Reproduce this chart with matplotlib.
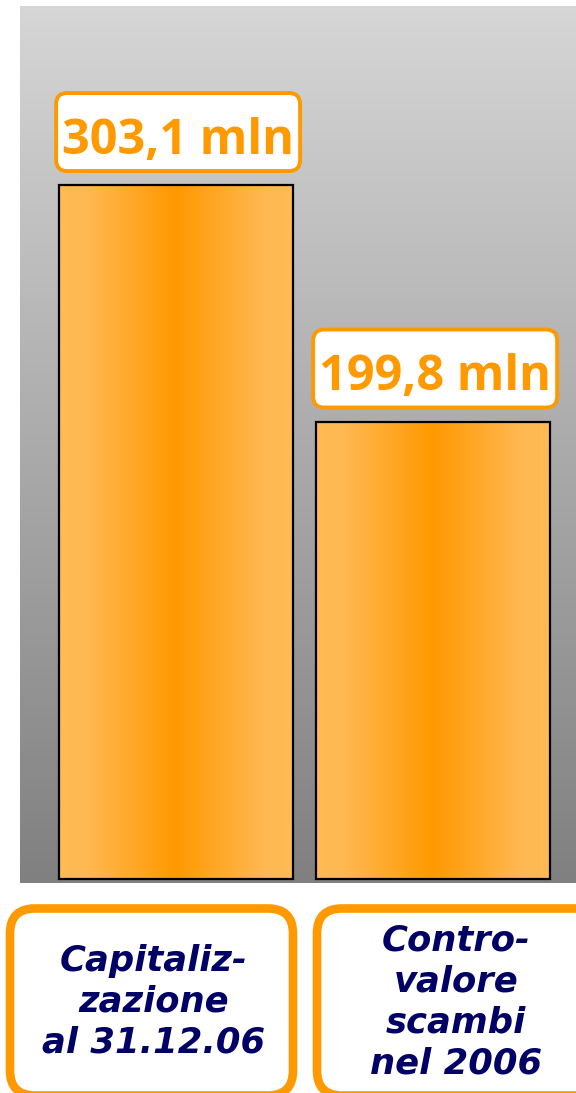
import numpy as np
import matplotlib
matplotlib.use("Agg")
import matplotlib.pyplot as plt
from matplotlib.colors import LinearSegmentedColormap
from matplotlib.patches import FancyBboxPatch

# ---- data ----
categories = ["Capitaliz-\nzazione\nal 31.12.06", "Contro-\nvalore\nscambi\nnel 2006"]
values = [303.1, 199.8]
value_labels = ["303,1 mln", "199,8 mln"]

W, H = 576, 1093
fig = plt.figure(figsize=(W / 100, H / 100), dpi=100)
fig.patch.set_facecolor("white")

# main plot area (pixel layout)
px_l, px_r, px_t, px_b = 20, 576, 6, 883
ax = fig.add_axes([px_l / W, 1 - px_b / H, (px_r - px_l) / W, (px_b - px_t) / H])
xlim = (-0.607, 1.556)
ylim = (-1.75, 381.3)

# background vertical gradient
bg_cmap = LinearSegmentedColormap.from_list("bg", ["#808080", "#d6d6d6"])
bg = np.linspace(0, 1, 256).reshape(-1, 1)
ax.imshow(bg, extent=[xlim[0], xlim[1], ylim[0], ylim[1]], origin="lower",
          aspect="auto", cmap=bg_cmap, zorder=0, interpolation="bicubic")

x = np.arange(len(values))
bars = ax.bar(x, values, width=0.91, facecolor="none", edgecolor="black",
              linewidth=1.6, zorder=3)

bar_cmap = LinearSegmentedColormap.from_list(
    "bar", [(0.0, "#ffbb55"), (0.12, "#ffb852"), (0.5, "#ff9900"),
            (0.88, "#ffb852"), (1.0, "#ffbb55")])
hg = np.linspace(0, 1, 512).reshape(1, -1)
for b in bars:
    x0, y0 = b.get_x(), b.get_y()
    im = ax.imshow(hg, extent=[x0, x0 + b.get_width(), y0, y0 + b.get_height()],
                   aspect="auto", cmap=bar_cmap, zorder=2, interpolation="bilinear")
    im.set_clip_path(b)

ax.set_xlim(*xlim)
ax.set_ylim(*ylim)
ax.axis("off")

texts = []
for b, lab in zip(bars, value_labels):
    t = ax.annotate(lab, (b.get_x() + b.get_width() / 2, b.get_height()),
                    xytext=(1.5, 22.5), textcoords="offset points",
                    ha="center", va="baseline", fontsize=35, fontweight="bold",
                    family=["Open Sans", "DejaVu Sans"], color="#ff9900", zorder=6)
    texts.append((b, t))

fig.canvas.draw()
renderer = fig.canvas.get_renderer()
for b, t in texts:
    ext = t.get_window_extent(renderer)
    cx = (ext.x0 + ext.x1) / 2
    _, ty = ax.transData.transform((b.get_x() + b.get_width() / 2, b.get_height()))
    bw = ext.width + 12
    bh = 78
    cy = ty + 53
    box = FancyBboxPatch((cx - bw / 2, cy - bh / 2), bw, bh,
                         boxstyle="round,pad=0,rounding_size=11",
                         fc="white", ec="#ff9900", lw=2.8,
                         transform=None, zorder=5)
    ax.add_artist(box)

# overlay for the category boxes (pixel coordinates)
ov = fig.add_axes([0, 0, 1, 1], facecolor="none")
ov.set_xlim(0, W)
ov.set_ylim(H, 0)
ov.axis("off")

box_specs = [(10, 908.5, 283, 187), (317, 908.5, 300, 187)]
text_pos = [(154, 1002), (456, 1002)]
for (bx, by, bw, bh), (tx, ty), cat in zip(box_specs, text_pos, categories):
    p = FancyBboxPatch((bx, by), bw, bh,
                       boxstyle="round,pad=0,rounding_size=25",
                       fc="white", ec="#ff9900", lw=6.2)
    ov.add_patch(p)
    ov.text(tx, ty, cat, ha="center", va="center", fontsize=25.5,
            fontweight="bold", fontstyle="italic", color="#000066",
            family=["DejaVu Sans"], linespacing=1.25)

fig.savefig("out.png", dpi=100)
